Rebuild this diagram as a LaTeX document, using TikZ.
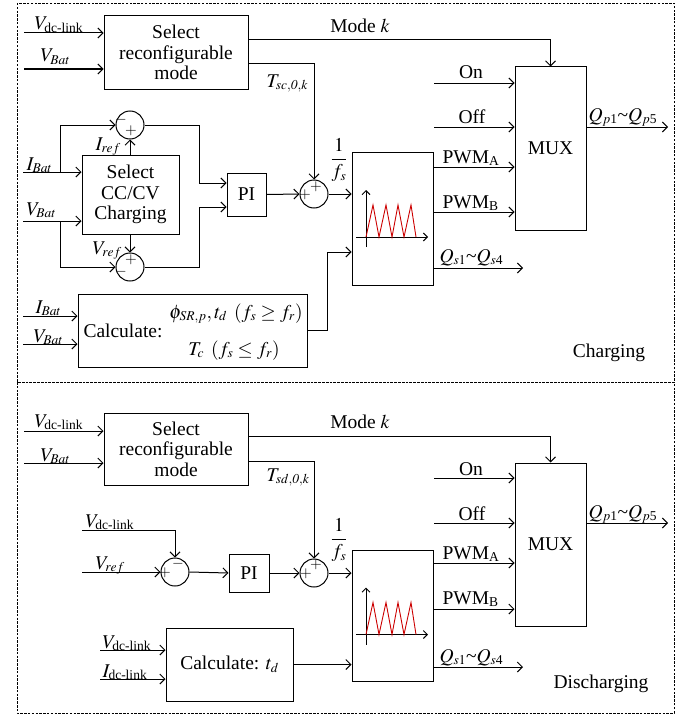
\documentclass[tikz,border=0pt]{standalone}
\usepackage{amsmath}
\usepackage{mathptmx}
\usepackage{fontspec}
\setmainfont{Liberation Serif}
\usetikzlibrary{arrows.meta}
\DeclareMathSizes{19.5}{19.5}{13.5}{10}
\begin{document}
\begin{tikzpicture}[x=1pt,y=-1pt,
  font=\fontsize{19.5}{20.5}\selectfont,
  line width=1pt,
  box/.style={draw, align=center, inner sep=0pt},
  sumc/.style={draw, circle, minimum size=28pt, inner sep=0pt},
  ar/.style={-{Straight Barb[length=5pt,width=10pt]}},
  sar/.style={-{Straight Barb[length=4pt,width=8pt]}},
  lbl/.style={anchor=base west, inner sep=0pt},
  lblc/.style={anchor=base, inner sep=0pt},
  sgn/.style={font=\fontsize{15}{15}\selectfont, inner sep=0pt},
  frame/.style={draw, dash pattern=on 2.5pt off 1.3pt, line width=0.9pt},
  wave/.style={draw=red!80!black, line width=0.9pt},
  saw/.pic={
    \draw[sar] (-26.5,28.5) -- (-26.5,-28.5);
    \draw[sar] (-36.5,18.5) -- (35.5,18.5);
    \draw[wave] (-26.5,18.5) -- (-19.5,-13.5) -- (-13.5,18.5) -- (-6.5,-13.5) -- (-0.5,18.5) -- (5.5,-13.5) -- (11.5,18.5) -- (18.5,-13.5) -- (23.5,18.5);
  }]
\useasboundingbox (0,0) rectangle (689,717);
\draw[frame] (17,3) rectangle (674,382);
\draw[frame] (17,382) rectangle (674,713);

% ================= Charging =================
\node[box, minimum width=144pt, minimum height=73pt] (sel1) at (176,52.5) {Select\\reconfigurable\\mode};
\coordinate (v1) at (24,33); \coordinate (v2) at (24,69);
\draw[ar] (v1) -- (v1 -| sel1.west);
\draw[ar] (v2) -- (v2 -| sel1.west);
\node[lbl] at (34,30) {$V_{\text{dc-link}}$};
\node[lbl] at (40,62) {$V_{Bat}$};

\node[box, minimum width=71pt, minimum height=163pt] (mux1) at (550.5,148.5) {MUX};
\draw[ar] (sel1.east |- 0,40) -| (mux1.north);
\node[lblc] at (360,33) {Mode $k$};

\node[sumc] (s1) at (314,194) {};
\draw[ar] (sel1.east |- 0,64) -| (s1.north);
\node[lbl] at (266,87) {$T_{sc,\mathit{0},k}$};

\node[box, minimum width=39pt, minimum height=43pt] (pi1) at (246.5,194.5) {PI};
\draw[ar] (pi1.east) -- (s1.west);
\node[sgn] at (305,195) {$+$};
\node[sgn] at (316,187) {$+$};

\node[box, minimum width=81pt, minimum height=133pt] (pwm1) at (392.5,218.5) {};
\draw[ar] (s1.east) -- (s1.east -| pwm1.west);
\node at (339,160) {$\displaystyle\frac{1}{f_s}$};
\pic at (pwm1.center) {saw};

\coordinate (qs1) at (523,268);
\draw[ar] (pwm1.east |- 0,167) -- (mux1.west |- 0,167);
\draw[ar] (pwm1.east |- 0,212) -- (mux1.west |- 0,212);
\draw[ar] (pwm1.east |- qs1) -- (qs1);
\node[lbl] at (442,163) {$\text{PWM}_{\text{A}}$};
\node[lbl] at (442,208) {$\text{PWM}_{\text{B}}$};
\node[lbl] at (439,262) {$Q_{s1}$\textasciitilde$Q_{s\text{4}}$};

\coordinate (on1) at (434,83); \coordinate (off1) at (434,127);
\draw[ar] (on1) -- (on1 -| mux1.west);
\draw[ar] (off1) -- (off1 -| mux1.west);
\node[lblc] at (471,78) {On};
\node[lblc] at (472,123) {Off};
\coordinate (qp1) at (668,127);
\draw[ar] (mux1.east |- qp1) -- (qp1);
\node[lbl] at (588,121) {$Q_{p\text{1}}$\textasciitilde$Q_{p\text{5}}$};

\node[box, minimum width=97pt, minimum height=79pt] (cc) at (130.5,194.5) {Select\\CC/CV\\Charging};
\coordinate (ib) at (23,172); \coordinate (vb) at (23,221);
\draw[ar] (ib) -- (ib -| cc.west);
\draw[ar] (vb) -- (vb -| cc.west);
\node[lbl] at (26,170) {$I_{Bat}$};
\node[lbl] at (26,215) {$V_{Bat}$};
\node[sumc] (c1) at (130,125) {};
\node[sumc] (c3) at (130,267) {};
\coordinate (br1) at (60,172); \coordinate (br3) at (60,221);
\draw[ar] (br1) |- (c1.west);
\draw[ar] (br3) |- (c3.west);
\draw[ar] (c1 |- cc.north) -- (c1.south);
\draw[ar] (c3 |- cc.south) -- (c3.north);
\draw[ar] (c1.east) -| (199,183) -- (pi1.west |- 0,183);
\draw[ar] (c3.east) -| (199,207) -- (pi1.west |- 0,207);
\node[sgn] at (121,120) {$-$};
\node[sgn] at (131,131) {$+$};
\node[sgn] at (131,260) {$+$};
\node[sgn] at (121,272) {$-$};
\node[lbl] at (95,150) {$I_{ref}$};
\node[lbl] at (92,254) {$V_{ref}$};

\node[box, minimum width=229pt, minimum height=73pt] (calc1) at (192.5,330.5) {};
\node[anchor=west, inner sep=0pt] at (83,331) {Calculate:};
\node[lblc] at (236,318) {$\phi_{SR,p},t_d\ \,(f_s\geq f_r)$};
\node[lblc] at (234,355) {$T_c\ \,(f_s\leq f_r)$};
\coordinate (ib2) at (23,316); \coordinate (vb2) at (23,344);
\draw[ar] (ib2) -- (ib2 -| calc1.west);
\draw[ar] (vb2) -- (vb2 -| calc1.west);
\node[lbl] at (35,313) {$I_{Bat}$};
\node[lbl] at (33,342) {$V_{Bat}$};
\draw[ar] (calc1.east) -| (327,252) -- (pwm1.west |- 0,252);

\node[lblc] at (609,357) {Charging};

% ================= Discharging =================
\node[box, minimum width=144pt, minimum height=72pt] (sel2) at (176,449) {Select\\reconfigurable\\mode};
\coordinate (v3) at (24,431); \coordinate (v4) at (24,463);
\draw[ar] (v3) -- (v3 -| sel2.west);
\draw[ar] (v4) -- (v4 -| sel2.west);
\node[lbl] at (34,427) {$V_{\text{dc-link}}$};
\node[lbl] at (40,461) {$V_{Bat}$};

\node[box, minimum width=71pt, minimum height=163pt] (mux2) at (550.5,544.5) {MUX};
\draw[ar] (sel2.east |- 0,436) -| (mux2.north);
\node[lblc] at (360,428) {Mode $k$};

\node[sumc] (s2) at (314,573) {};
\draw[ar] (sel2.east |- 0,461) -| (s2.north);
\node[lbl] at (266,481) {$T_{sd,\mathit{0},k}$};

\node[sumc] (c4) at (175,572) {};
\coordinate (vd) at (82,530);
\draw[ar] (vd) -| (c4.north);
\node[lbl] at (85,527) {$V_{\text{dc-link}}$};
\coordinate (vr) at (82,572);
\draw[ar] (vr) -- (c4.west);
\node[lbl] at (95,569) {$V_{ref}$};
\node[sgn] at (165,573) {$+$};
\node[sgn] at (178,564) {$-$};

\node[box, minimum width=40pt, minimum height=38pt] (pi2) at (249,573) {PI};
\draw[ar] (c4.east) -- (pi2.west);
\draw[ar] (pi2.east) -- (s2.west);
\node[sgn] at (306,574) {$+$};
\node[sgn] at (316,565) {$+$};

\node[box, minimum width=81pt, minimum height=131pt] (pwm2) at (392.5,615.5) {};
\draw[ar] (s2.east) -- (s2.east -| pwm2.west);
\node at (339,540) {$\displaystyle\frac{1}{f_s}$};
\pic at ([yshift=-0.5pt]pwm2.center) {saw};

\coordinate (qs2) at (523,667);
\draw[ar] (pwm2.east |- 0,563) -- (mux2.west |- 0,563);
\draw[ar] (pwm2.east |- 0,609) -- (mux2.west |- 0,609);
\draw[ar] (pwm2.east |- qs2) -- (qs2);
\node[lbl] at (442,559) {$\text{PWM}_{\text{A}}$};
\node[lbl] at (442,604) {$\text{PWM}_{\text{B}}$};
\node[lbl] at (439,662) {$Q_{s1}$\textasciitilde$Q_{s\text{4}}$};

\coordinate (on2) at (434,478); \coordinate (off2) at (434,523);
\draw[ar] (on2) -- (on2 -| mux2.west);
\draw[ar] (off2) -- (off2 -| mux2.west);
\node[lblc] at (471,475) {On};
\node[lblc] at (472,520) {Off};
\coordinate (qp2) at (668,523);
\draw[ar] (mux2.east |- qp2) -- (qp2);
\node[lbl] at (588,518) {$Q_{p\text{1}}$\textasciitilde$Q_{p\text{5}}$};

\node[box, minimum width=127pt, minimum height=73pt] (calc2) at (229.5,664.5) {Calculate: $t_d$};
\draw[ar] (calc2.east) -- (calc2.east -| pwm2.west);
\coordinate (vd2) at (100,650); \coordinate (id2) at (100,679);
\draw[ar] (vd2) -- (vd2 -| calc2.west);
\draw[ar] (id2) -- (id2 -| calc2.west);
\node[lbl] at (102,648) {$V_{\text{dc-link}}$};
\node[lbl] at (102,677) {$I_{\text{dc-link}}$};

\node[lblc] at (601,688) {Discharging};
\end{tikzpicture}
\end{document}
